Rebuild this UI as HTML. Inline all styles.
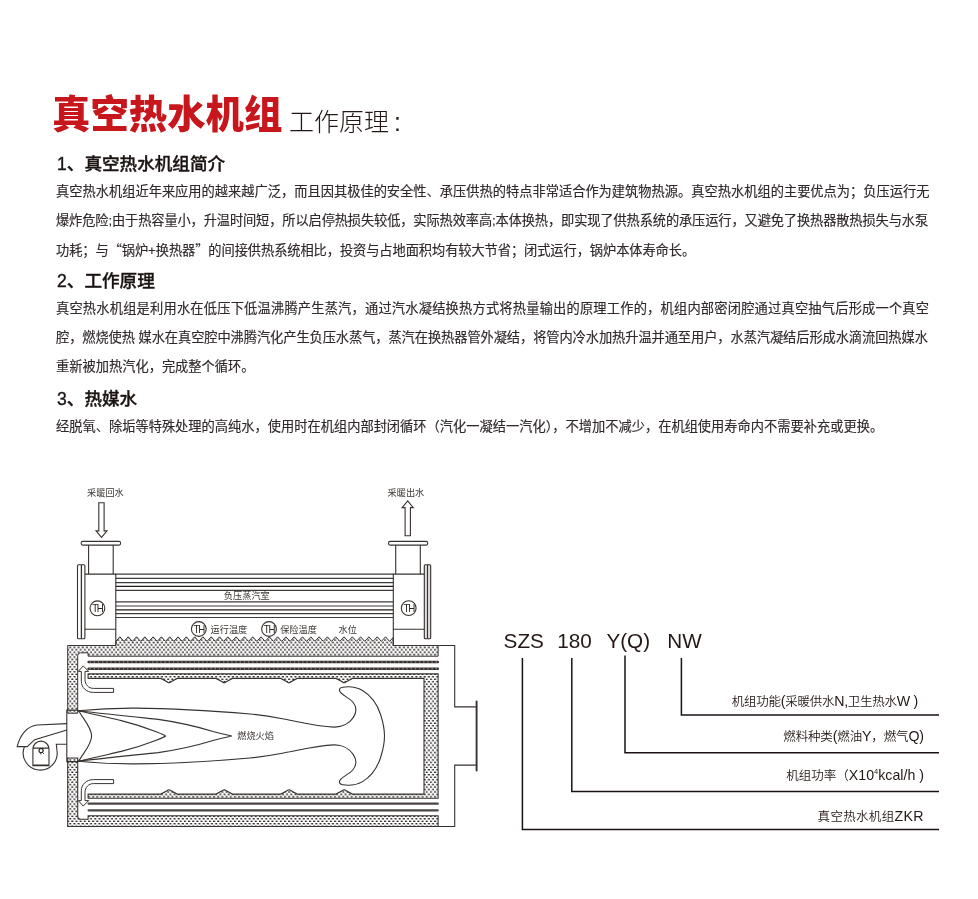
<!DOCTYPE html>
<html lang="zh-CN">
<head>
<meta charset="utf-8">
<title>真空热水机组 工作原理</title>
<style>
html,body{margin:0;padding:0;background:#fff;}
body{width:978px;height:899px;position:relative;overflow:hidden;font-family:"Liberation Sans","Noto Sans CJK SC",sans-serif;color:#231815;}
.abs{position:absolute;white-space:nowrap;}
.cjk{font-family:"Noto Sans CJK SC",sans-serif;}
.title{left:52px;top:86.5px;font-size:38.4px;font-weight:900;color:#c8161d;line-height:56px;}
.sub{left:289px;top:101.5px;font-size:25px;font-weight:300;color:#231815;line-height:40px;}
.h{-webkit-text-stroke:0.35px #1a1311;left:57px;font-size:17.6px;font-weight:500;color:#1a1311;line-height:24px;}
.p{-webkit-text-stroke:0.15px #30282a;left:56px;font-size:13.24px;font-weight:400;color:#30282a;line-height:29px;}
</style>
</head>
<body>
<div id="wrap" style="position:absolute;left:0;top:0;width:978px;height:899px;will-change:transform;">
<div class="abs title">真空热水机组</div>
<div class="abs sub">工作原理<span style="margin-left:5px">:</span></div>

<div class="abs h" style="top:152px">1、真空热水机组简介</div>
<div class="abs p" style="top:176.5px">真空热水机组近年来应用的越来越广泛，而且因其极佳的安全性、承压供热的特点非常适合作为建筑物热源。真空热水机组的主要优点为；负压运行无</div>
<div class="abs p" style="top:205.5px;letter-spacing:-0.13px">爆炸危险;由于热容量小，升温时间短，所以启停热损失较低，实际热效率高;本体换热，即实现了供热系统的承压运行，又避免了换热器散热损失与水泵</div>
<div class="abs p" style="top:234.5px;letter-spacing:-0.08px">功耗；与<span class="cjk">“</span>锅炉+换热器<span class="cjk">”</span>的间接供热系统相比，投资与占地面积均有较大节省；闭式运行，锅炉本体寿命长。</div>

<div class="abs h" style="top:269.3px">2、工作原理</div>
<div class="abs p" style="top:293.6px;letter-spacing:0.2px">真空热水机组是利用水在低压下低温沸腾产生蒸汽，通过汽水凝结换热方式将热量输出的原理工作的，机组内部密闭腔通过真空抽气后形成一个真空</div>
<div class="abs p" style="top:323.2px;letter-spacing:-0.08px">腔，燃烧使热 媒水在真空腔中沸腾汽化产生负压水蒸气，蒸汽在换热器管外凝结，将管内冷水加热升温并通至用户，水蒸汽凝结后形成水滴流回热媒水</div>
<div class="abs p" style="top:352.2px">重新被加热汽化，完成整个循环。</div>

<div class="abs h" style="top:386.6px">3、热媒水</div>
<div class="abs p" style="top:412px">经脱氧、除垢等特殊处理的高纯水，使用时在机组内部封闭循环（汽化一凝结一汽化），不增加不减少，在机组使用寿命内不需要补充或更换。</div>
<svg width="978" height="899" viewBox="0 0 978 899" style="position:absolute;left:0;top:0" font-family="Liberation Sans, Noto Sans CJK SC, sans-serif">
<defs>
<pattern id="dots" x="0.4" y="1.75" width="4.17" height="4.9" patternUnits="userSpaceOnUse">
<rect width="4.17" height="4.9" fill="#fff"/>
<ellipse cx="1.04" cy="1.22" rx="1.22" ry="0.8" fill="#1f1a18"/>
<ellipse cx="3.13" cy="3.67" rx="1.22" ry="0.8" fill="#1f1a18"/>
</pattern>
</defs>
<path d="M67.7,645.5 H115.8 L115.80,641.34 L119.90,636.80 L124.05,641.40 L128.20,636.80 L132.35,641.40 L136.50,636.80 L140.65,641.40 L144.80,636.80 L148.95,641.40 L153.10,636.80 L157.25,641.40 L161.40,636.80 L165.55,641.40 L169.70,636.80 L173.85,641.40 L178.00,636.80 L182.15,641.40 L186.30,636.80 L190.45,641.40 L194.60,636.80 L198.75,641.40 L202.90,636.80 L207.05,641.40 L211.20,636.80 L215.35,641.40 L219.50,636.80 L223.65,641.40 L227.80,636.80 L231.95,641.40 L236.10,636.80 L240.25,641.40 L244.40,636.80 L248.55,641.40 L252.70,636.80 L256.85,641.40 L261.00,636.80 L265.15,641.40 L269.30,636.80 L273.45,641.40 L277.60,636.80 L281.75,641.40 L285.90,636.80 L290.05,641.40 L294.20,636.80 L298.35,641.40 L302.50,636.80 L306.65,641.40 L310.80,636.80 L314.95,641.40 L319.10,636.80 L323.25,641.40 L327.40,636.80 L331.55,641.40 L335.70,636.80 L339.85,641.40 L344.00,636.80 L348.15,641.40 L352.30,636.80 L356.45,641.40 L360.60,636.80 L364.75,641.40 L368.90,636.80 L373.05,641.40 L377.20,636.80 L381.35,641.40 L385.50,636.80 L389.65,641.40 L393.30,637.35 L393.3,645.5 H438.1 V656.2 H88.1 V652.8 H80.7 Q77.7,652.8 77.7,655.8 V713.2 H67.7 Z" fill="url(#dots)" stroke="#37322f" stroke-width="1" stroke-linejoin="miter"/>
<path d="M67.7,758 H77.7 V816.2 Q77.7,819.2 80.7,819.2 H88.1 V815.8 H438.1 V826.5 H67.7 Z" fill="url(#dots)" stroke="#37322f" stroke-width="1.1"/>
<path d="M88.1,673.9 H438.1 V798.3 H88.1 V794.1 H160.8 L167.4,790.50 Q169.0,789.10 170.6,790.50 L177.2,794.10 H216.0 L222.6,790.50 Q224.2,789.10 225.8,790.50 L232.4,794.10 H280.8 L287.4,790.50 Q289.0,789.10 290.6,790.50 L297.2,794.10 H336.0 L342.6,790.50 Q344.2,789.10 345.8,790.50 L352.4,794.10 H424 V678.4 H352.4 L345.8,682.00 Q344.2,683.40 342.6,682.00 L336.0,678.40 H297.2 L290.6,682.00 Q289.0,683.40 287.4,682.00 L280.8,678.40 H232.4 L225.8,682.00 Q224.2,683.40 222.6,682.00 L216.0,678.40 H177.2 L170.6,682.00 Q169.0,683.40 167.4,682.00 L160.8,678.40 H88.1 Z" fill="url(#dots)" stroke="#37322f" stroke-width="1.1"/>
<line x1="88.6" y1="662.0" x2="437.8" y2="662.0" stroke="#36302e" stroke-width="2.5" stroke-linecap="round"/>
<line x1="89.5" y1="662.0" x2="437.1" y2="662.0" stroke="#d8d5d3" stroke-width="0.7" stroke-dasharray="1.4 2.77"/>
<line x1="88.6" y1="668.8" x2="437.8" y2="668.8" stroke="#36302e" stroke-width="2.5" stroke-linecap="round"/>
<line x1="89.5" y1="668.8" x2="437.1" y2="668.8" stroke="#d8d5d3" stroke-width="0.7" stroke-dasharray="1.4 2.77"/>
<line x1="88.6" y1="810.3" x2="437.8" y2="810.3" stroke="#4b4644" stroke-width="2.2" stroke-linecap="round"/>
<line x1="88.6" y1="803.7" x2="437.8" y2="803.7" stroke="#4b4644" stroke-width="2.2" stroke-linecap="round"/>
<path d="M438.1,645.5 H454.7 V706.9 H476.5 M476.5,765.1 H454.7 V826.5 H438.1" fill="none" stroke="#37322f" stroke-width="1.1"/>
<line x1="476.6" y1="701.4" x2="476.6" y2="770.6" stroke="#37322f" stroke-width="1.9" stroke-linecap="round"/>
<path d="M78,710.1 H66.8 V761.6 H78" fill="none" stroke="#37322f" stroke-width="1.1"/>
<path d="M77.9,710.8 C100,708.6 118,708 135,708.1 C175,708.4 215,711 250,714 C270,716 280,718.5 290,720.2 C303,722.8 318,726.4 334,727.1 C342,727.3 349.5,723.5 353.4,717.4 C356.5,712.5 356.6,706.5 352.8,702 C349,697.6 344,696.4 340.7,692.7 C338.6,690.3 339,687.8 342.7,687.2 C350,686 357,687.3 362.5,690.4 C372,696 377.5,705 380.6,714.5 C383,722 384.5,729 384.5,736 C384.50,743.00 383.00,750.00 380.60,757.50 C377.50,767.00 372.00,776.00 362.50,781.60 C357.00,784.70 350.00,786.00 342.70,784.80 C339.00,784.20 338.60,781.70 340.70,779.30 C344.00,775.60 349.00,774.40 352.80,770.00 C356.60,765.50 356.50,759.50 353.40,754.60 C349.50,748.50 342.00,744.70 334.00,744.90 C318.00,745.60 303.00,749.20 290.00,751.80 C280.00,753.50 270.00,756.00 250.00,758.00 C215.00,761.00 175.00,763.60 135.00,763.90 C118.00,764.00 100.00,763.40 77.90,761.20" fill="none" stroke="#37322f" stroke-width="1.1"/>
<path d="M77.9,710.8 C110,714.5 140,717.5 158.2,719.4 C180,722.5 200,727.5 213,731.5 C222,734 228,735.2 231.8,736 C228.00,736.80 222.00,738.00 213.00,740.50 C200.00,744.50 180.00,749.50 158.20,752.60 C140.00,754.50 110.00,757.50 77.90,761.20" fill="none" stroke="#37322f" stroke-width="1.1"/>
<path d="M77.9,710.8 C95,714.5 108,717.6 121.3,720.6 C135,724 148,728.5 157,732 C162,734 164.5,735 165.5,736 C164.50,737.00 162.00,738.00 157.00,740.00 C148.00,743.50 135.00,748.00 121.30,751.40 C108.00,754.40 95.00,757.50 77.90,761.20" fill="none" stroke="#37322f" stroke-width="1.1"/>
<path d="M78.6,710.4 C83,719 91.6,727 91.6,736 C91.60,745.00 83.00,753.00 78.60,761.60" fill="none" stroke="#37322f" stroke-width="1.1"/>
<path d="M113.6,688.4 H93.5 C88.5,688.4 85,684.5 85,679.5 V671.4 H88.7 L83.2,665.9 L78.3,671.4 H81.3 V681.4 C81.3,687.5 86.5,692.4 93.3,692.4 H113.6 Z" fill="#fff" stroke="#37322f" stroke-width="1" stroke-linejoin="miter"/>
<path d="M 113.6,783.60 H93.5 C 88.5,783.60 85,787.50 85,792.50 V800.60 H88.7 L 83.2,806.10 L 78.3,800.60 H81.3 V790.60 C 81.3,784.50 86.5,779.60 93.3,779.60 H113.6 Z" fill="#fff" stroke="#37322f" stroke-width="1" stroke-linejoin="miter"/>
<path d="M66.8,723.6 L37.2,725 C27,726 20,735 17.2,746.6 H27.2 L34.7,739.7 L66.8,730" fill="none" stroke="#37322f" stroke-width="1.1"/>
<path d="M24.3,747 A17,17 0 1 0 56.9,750 L56.3,744.2 H66.8" fill="none" stroke="#37322f" stroke-width="1.1"/>
<path d="M32.9,765.8 V749.2 A8.05,8.05 0 0 1 49,749.2 V765.8 Z M32.9,748.1 H49 M33.2,765 H48.7" fill="none" stroke="#37322f" stroke-width="1.1"/>
<circle cx="41.1" cy="750.6" r="2.1" fill="none" stroke="#231815" stroke-width="1.1"/>
<path d="M42.6,748.8 L43.6,747.8 M42.4,752.4 L44,754 M40.6,752.8 L40.9,754.4" fill="none" stroke="#231815" stroke-width="0.8"/>
<line x1="115.8" y1="574.1" x2="393.3" y2="574.1" stroke="#3e3a39" stroke-width="1.15"/>
<line x1="115.8" y1="578.4" x2="393.3" y2="578.4" stroke="#3e3a39" stroke-width="1.15"/>
<line x1="115.8" y1="582.6" x2="393.3" y2="582.6" stroke="#3e3a39" stroke-width="1.15"/>
<line x1="115.8" y1="586.4" x2="393.3" y2="586.4" stroke="#231815" stroke-width="1.15"/>
<line x1="115.8" y1="590.3" x2="393.3" y2="590.3" stroke="#3e3a39" stroke-width="1.15"/>
<line x1="115.8" y1="601.9" x2="393.3" y2="601.9" stroke="#3e3a39" stroke-width="1.15"/>
<line x1="115.8" y1="606.0" x2="393.3" y2="606.0" stroke="#3e3a39" stroke-width="1.15"/>
<line x1="115.8" y1="609.8" x2="393.3" y2="609.8" stroke="#231815" stroke-width="1.15"/>
<line x1="115.8" y1="613.6" x2="393.3" y2="613.6" stroke="#3e3a39" stroke-width="1.15"/>
<line x1="115.8" y1="617.5" x2="393.3" y2="617.5" stroke="#3e3a39" stroke-width="1.15"/>
<path d="M115.8,645.5 V574.1 H84.9 M84.9,629.2 H115.8" fill="none" stroke="#37322f" stroke-width="1.1"/>
<rect x="77.5" y="564.7" width="7.4" height="74" rx="1" fill="#fff" stroke="#37322f" stroke-width="1.1"/>
<line x1="81.4" y1="565" x2="81.4" y2="638.4" stroke="#37322f" stroke-width="1.3"/>
<path d="M88.6,574.1 V545 M113.2,574.1 V545" fill="none" stroke="#37322f" stroke-width="1.1"/>
<rect x="81.2" y="541.4" width="39.4" height="3.7" rx="1.6" fill="#fff" stroke="#37322f" stroke-width="1.1"/>
<path d="M393.3,645.5 V574.1 H424.3 M424.3,629.2 H393.3" fill="none" stroke="#37322f" stroke-width="1.1"/>
<rect x="424.3" y="564.7" width="6.4" height="74" rx="1" fill="#ddd" stroke="#37322f" stroke-width="1.1"/>
<line x1="427.5" y1="565" x2="427.5" y2="638.4" stroke="#37322f" stroke-width="1.1"/>
<path d="M395.7,574.1 V545 M420.3,574.1 V545" fill="none" stroke="#37322f" stroke-width="1.1"/>
<rect x="388.5" y="541.4" width="39.2" height="3.7" rx="1.6" fill="#fff" stroke="#37322f" stroke-width="1.1"/>
<path d="M98.8,502.8 H104.1 V530.9 H107 L101.5,537.4 L96,530.9 H98.8 Z" fill="#fff" stroke="#37322f" stroke-width="1.1"/>
<path d="M405.1,535.8 H410.4 V507.6 H413.2 L407.7,500.9 L402.1,507.6 H405.1 Z" fill="#fff" stroke="#37322f" stroke-width="1.1"/>
<circle cx="97.4" cy="608.3" r="7.4" fill="#fff" stroke="#37322f" stroke-width="1.1"/><text x="97.4" y="611.9" text-anchor="middle" font-size="10.5" letter-spacing="-1.3" font-family="Liberation Sans, sans-serif" fill="#2a2320" textLength="10.5" lengthAdjust="spacingAndGlyphs">TH</text>
<circle cx="408.7" cy="608.1" r="7.4" fill="#fff" stroke="#37322f" stroke-width="1.1"/><text x="408.7" y="611.7" text-anchor="middle" font-size="10.5" letter-spacing="-1.3" font-family="Liberation Sans, sans-serif" fill="#2a2320" textLength="10.5" lengthAdjust="spacingAndGlyphs">TH</text>
<circle cx="198.8" cy="629" r="7.4" fill="#fff" stroke="#37322f" stroke-width="1.1"/><text x="198.8" y="632.6" text-anchor="middle" font-size="10.5" letter-spacing="-1.3" font-family="Liberation Sans, sans-serif" fill="#2a2320" textLength="10.5" lengthAdjust="spacingAndGlyphs">TH</text>
<circle cx="269" cy="629" r="7.4" fill="#fff" stroke="#37322f" stroke-width="1.1"/><text x="269" y="632.6" text-anchor="middle" font-size="10.5" letter-spacing="-1.3" font-family="Liberation Sans, sans-serif" fill="#2a2320" textLength="10.5" lengthAdjust="spacingAndGlyphs">TH</text>
<text x="105.4" y="495.6" text-anchor="middle" font-size="9.2" font-weight="400" fill="#3a3431" >采暖回水</text>
<text x="405.9" y="495.6" text-anchor="middle" font-size="9.2" font-weight="400" fill="#3a3431" >采暖出水</text>
<text x="246.8" y="599.2" text-anchor="middle" font-size="9.2" font-weight="400" fill="#3a3431" >负压蒸汽室</text>
<text x="228.9" y="632.5" text-anchor="middle" font-size="9.2" font-weight="400" fill="#3a3431" >运行温度</text>
<text x="298.5" y="632.5" text-anchor="middle" font-size="9.2" font-weight="400" fill="#3a3431" >保险温度</text>
<text x="347.7" y="632.5" text-anchor="middle" font-size="9.2" font-weight="400" fill="#3a3431" >水位</text>
<text x="255.6" y="738.9" text-anchor="middle" font-size="9.2" font-weight="400" fill="#3a3431" >燃烧火焰</text>
<g font-family="Liberation Sans, sans-serif" font-size="20.7" fill="#231815"><text x="503.6" y="648.3">SZS</text><text x="557.2" y="648.3">180</text><text x="606.4" y="648.3">Y(Q)</text><text x="667.2" y="648.3">NW</text></g>
<path d="M522.4,658 V829.6 H939 M571.8,658 V791.5 H939 M625,655.4 V752.8 H939 M681.4,658 V715 H939" fill="none" stroke="#1a1311" stroke-width="1.5"/>
<text x="731.8" y="705.8" font-size="12.5" font-weight="350" fill="#231815" textLength="186.5" lengthAdjust="spacing">机组功能<tspan font-size="14.2" font-family="Liberation Sans, sans-serif">(</tspan>采暖供水<tspan font-size="14.2" font-family="Liberation Sans, sans-serif">N,</tspan>卫生热水<tspan font-size="14.2" font-family="Liberation Sans, sans-serif">W )</tspan></text>
<text x="783.3" y="740.8" font-size="12.5" font-weight="350" fill="#231815" textLength="140.7" lengthAdjust="spacing">燃料种类<tspan font-size="14.2" font-family="Liberation Sans, sans-serif">(</tspan>燃油<tspan font-size="14.2" font-family="Liberation Sans, sans-serif">Y</tspan>，燃气<tspan font-size="14.2" font-family="Liberation Sans, sans-serif">Q)</tspan></text>
<text x="786.2" y="780.3" font-size="12.5" font-weight="350" fill="#231815" textLength="137.8" lengthAdjust="spacing">机组功率（<tspan font-size="14.2" font-family="Liberation Sans, sans-serif">X10</tspan><tspan font-size="7.5" dy="-6" font-family="Liberation Sans, sans-serif">4</tspan><tspan dy="6" font-size="14.2" font-family="Liberation Sans, sans-serif">kcal/h )</tspan></text>
<text x="817.6" y="820.6" font-size="12.5" font-weight="350" fill="#231815" textLength="105.8" lengthAdjust="spacing">真空热水机组<tspan font-size="14.2" font-family="Liberation Sans, sans-serif">ZKR</tspan></text>
</svg>
</div>
</body>
</html>
